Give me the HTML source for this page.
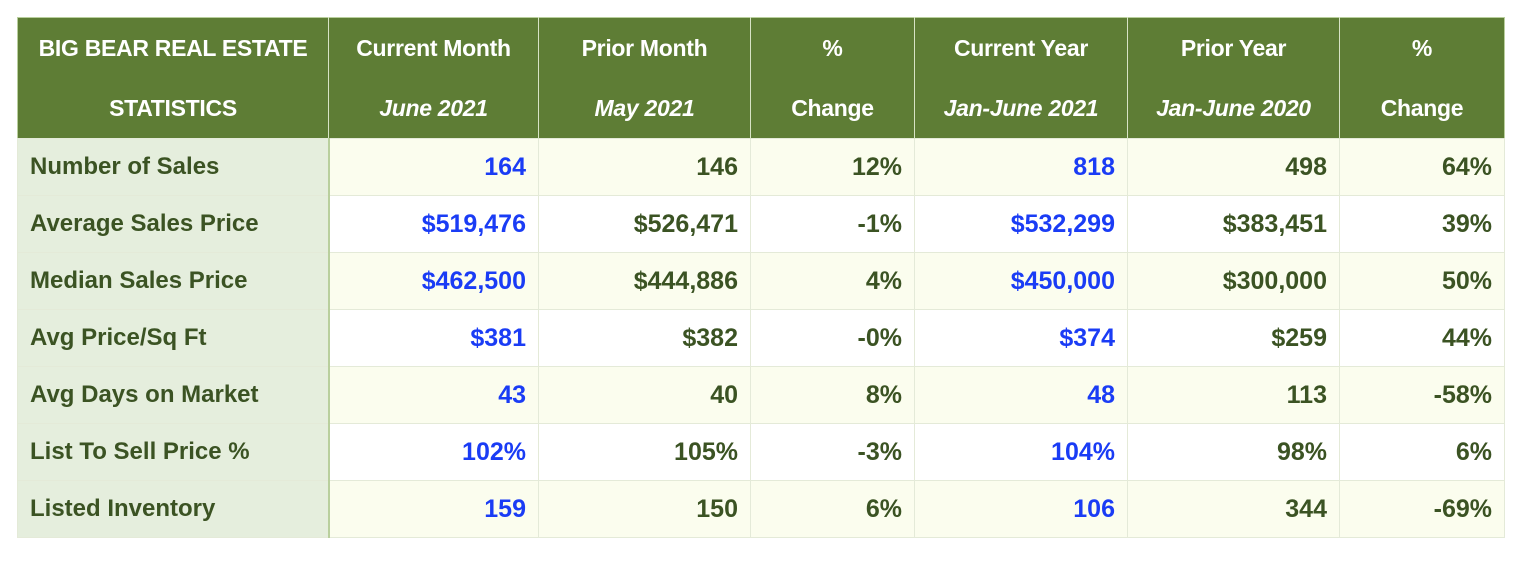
<!DOCTYPE html>
<html><head><meta charset="utf-8">
<style>
body{margin:0;background:#fff;width:1524px;height:564px;overflow:hidden;font-family:"Liberation Sans",sans-serif;}
table{position:absolute;left:17px;top:17px;border-collapse:collapse;table-layout:fixed;width:1487px;border:1px solid #b9cf9d}
th{background:#5e7d35;color:#fff;font-weight:bold;font-size:23px;height:116px;padding:0;border-right:1px solid #d7e3c5;line-height:60px;text-align:center;letter-spacing:-0.3px}
th:last-child{border-right:none}
th i{font-style:italic}
td{height:56px;font-size:25px;font-weight:bold;color:#3b5323;text-align:right;padding:0 12px;border:1px solid #e4ead8;}
td.lab{text-align:left;font-size:24px;background:#e5eedd;border-right:2px solid #b9cf9d;}
tr.y td{background:#fbfdee}
tr.y td.lab{background:#e5eedd}
td.b{color:#1a3cf5}
</style></head><body>
<table>
<colgroup><col style="width:311px"><col style="width:210px"><col style="width:212px"><col style="width:164px"><col style="width:213px"><col style="width:212px"><col style="width:165px"></colgroup>
<tr>
<th>BIG BEAR REAL ESTATE<br>STATISTICS</th>
<th>Current Month<br><i>June 2021</i></th>
<th>Prior Month<br><i>May 2021</i></th>
<th>%<br>Change</th>
<th>Current Year<br><i>Jan-June 2021</i></th>
<th>Prior Year<br><i>Jan-June 2020</i></th>
<th>%<br>Change</th>
</tr>
<tr class="y"><td class="lab">Number of Sales</td><td class="b">164</td><td>146</td><td>12%</td><td class="b">818</td><td>498</td><td>64%</td></tr>
<tr><td class="lab">Average Sales Price</td><td class="b">$519,476</td><td>$526,471</td><td>-1%</td><td class="b">$532,299</td><td>$383,451</td><td>39%</td></tr>
<tr class="y"><td class="lab">Median Sales Price</td><td class="b">$462,500</td><td>$444,886</td><td>4%</td><td class="b">$450,000</td><td>$300,000</td><td>50%</td></tr>
<tr><td class="lab">Avg Price/Sq Ft</td><td class="b">$381</td><td>$382</td><td>-0%</td><td class="b">$374</td><td>$259</td><td>44%</td></tr>
<tr class="y"><td class="lab">Avg Days on Market</td><td class="b">43</td><td>40</td><td>8%</td><td class="b">48</td><td>113</td><td>-58%</td></tr>
<tr><td class="lab">List To Sell Price %</td><td class="b">102%</td><td>105%</td><td>-3%</td><td class="b">104%</td><td>98%</td><td>6%</td></tr>
<tr class="y"><td class="lab">Listed Inventory</td><td class="b">159</td><td>150</td><td>6%</td><td class="b">106</td><td>344</td><td>-69%</td></tr>
</table>
</body></html>
